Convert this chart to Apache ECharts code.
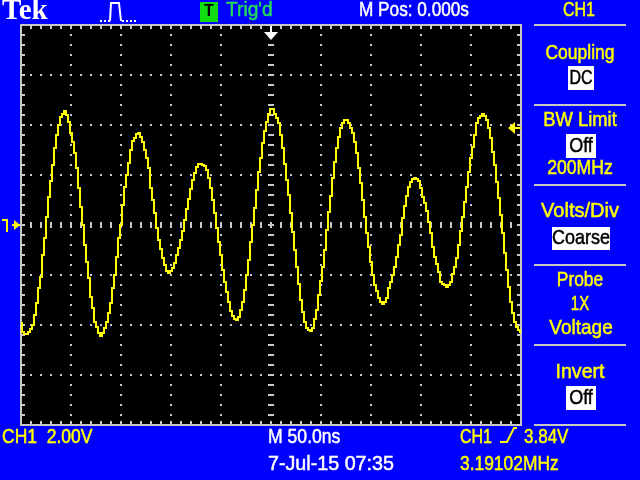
<!DOCTYPE html>
<html><head><meta charset="utf-8">
<style>html,body{margin:0;padding:0;background:#0000ff}#c{width:640px;height:480px}</style>
<script src="https://cdn.jsdelivr.net/npm/echarts@6/dist/echarts.min.js"></script>
</head><body><div id="c"></div>
<script>
var sampleStartNs=-250, sampleStepNs=2;
var ch1Volts=[-3.93,-4.27,-4.37,-4.37,-4.27,-4.16,-4,-3.6,-3.13,-2.53,-2.07,-1.2,-0.53,0.33,1.13,1.76,2.4,3.07,3.6,4,4.33,4.43,4.56,4.4,4.13,3.67,3.33,2.87,2.27,1.47,0.73,0,-0.8,-1.47,-2.13,-2.87,-3.33,-3.87,-4.07,-4.33,-4.43,-4.33,-4.13,-3.87,-3.53,-3.13,-2.53,-2,-1.27,-0.53,0,0.8,1.53,2,2.47,3,3.36,3.47,3.63,3.67,3.53,3.33,3,2.67,2.27,
1.47,1,0.47,-0.11,-0.6,-0.96,-1.31,-1.6,-1.84,-1.93,-1.84,-1.73,-1.53,-1.2,-0.93,-0.6,-0.24,0.2,0.64,1.04,1.44,1.81,2.07,2.33,2.44,2.45,2.4,2.37,2.2,1.89,1.47,1,0.47,-0.13,-0.67,-1.2,-1.8,-2.27,-2.67,-3.07,-3.44,-3.64,-3.76,-3.8,-3.69,-3.4,-3.07,-2.6,-2,-1.4,-0.67,0,0.67,1.4,2.13,2.69,3.27,3.76,4.13,4.44,4.64,
4.64,4.43,4.29,4.07,3.6,3.09,2.43,1.8,1.2,0.47,-0.27,-1,-1.67,-2.37,-3,-3.47,-3.87,-4.11,-4.2,-4.23,-4.11,-3.76,-3.4,-2.8,-2.24,-1.69,-1,-0.2,0.53,1.17,1.87,2.53,3.07,3.53,3.87,4.08,4.21,4.19,4.08,3.89,3.67,3.31,2.87,2.27,1.67,1,0.33,-0.33,-0.87,-1.47,-2,-2.4,-2.64,-2.91,-3.09,-3.16,-3.07,-2.91,-2.53,-2.27,-2,-1.67,-1.27,-0.8,
-0.4,0.29,0.76,1.17,1.53,1.73,1.84,1.89,1.84,1.76,1.47,1.13,0.87,0.56,0.13,-0.33,-0.87,-1.27,-1.57,-1.87,-2.27,-2.37,-2.4,-2.47,-2.4,-2.27,-1.97,-1.67,-1.31,-0.8,-0.24,0.33,0.93,1.53,2.13,2.67,3.13,3.6,4.07,4.27,4.37,4.43,4.37,4.2,3.87,3.47,2.93,2.4,1.73,1.07,0.4,-0.33,-1.13,-1.8,-2.47,-3.07,-3.53,-3.87,-4.07,-4.2,-4.29];
var statusTexts=["M Pos: 0.000s","CH1  2.00V","M 50.0ns","7-Jul-15 07:35","CH1","3.84V","3.19102MHz"];
var menuTexts=["CH1","Coupling","BW Limit","200MHz","Volts/Div","Probe","1X","Voltage","Invert"];
var menuValues=["DC","Off","Coarse","Off"];

var YEL='#ffff00',WHT='#ffffff',GRY='#c8c8c8',FONT='"Liberation Sans",sans-serif';
// the scope quantises a sample to 0.04 V, one display pixel
var points=ch1Volts.map(function(v,i){return [sampleStartNs+i*sampleStepNs,Math.round(v*25)/25];});

function frameX(pos){return {type:'value',position:pos,min:-250,max:250,interval:50,
  axisLine:{show:true,onZero:false,lineStyle:{color:GRY,width:2}},
  axisTick:{show:true,inside:true,length:4,lineStyle:{color:GRY,width:2}},
  minorTick:{show:true,splitNumber:5,length:4,lineStyle:{color:GRY,width:2}},
  axisLabel:{show:false},
  splitLine:{show:pos==='bottom',showMinLine:false,showMaxLine:false,lineStyle:{color:GRY,width:2,type:[2,8],dashOffset:1}}};}
function frameY(pos){return {type:'value',position:pos,min:-8,max:8,interval:2,
  axisLine:{show:true,onZero:false,lineStyle:{color:GRY,width:2}},
  axisTick:{show:true,inside:true,length:4,lineStyle:{color:GRY,width:2}},
  minorTick:{show:true,splitNumber:5,length:4,lineStyle:{color:GRY,width:2}},
  axisLabel:{show:false},
  splitLine:{show:pos==='left',showMinLine:false,showMaxLine:false,lineStyle:{color:GRY,width:2,type:[2,8],dashOffset:1}}};}
var xAxes=[frameX('bottom'),frameX('top'),{type:'value',min:-250,max:250,interval:250,axisLine:{show:false},axisTick:{show:false},axisLabel:{show:false},
  splitLine:{show:true,showMinLine:false,showMaxLine:false,lineStyle:{color:GRY,width:6,type:[2,8],dashOffset:1}}}];
var yAxes=[frameY('left'),frameY('right'),{type:'value',min:-8,max:8,interval:8,axisLine:{show:false},axisTick:{show:false},axisLabel:{show:false},
  splitLine:{show:true,showMinLine:false,showMaxLine:false,lineStyle:{color:GRY,width:6,type:[2,8],dashOffset:1}}}];

function txt(s,x,y,color,align,sx){
  return {type:'text',x:x,y:y,scaleX:(sx||1)/1.05,z:20,style:{text:s,fill:color,stroke:color,lineWidth:0.5,font:'21px '+FONT,textAlign:align||'left',textVerticalAlign:'middle'}};
}
function rect(x,y,w,h,c){return {type:'rect',z:15,shape:{x:x,y:y,width:w,height:h},style:{fill:c}};}
function poly(pts,c,w,dash){return {type:'polyline',z:20,shape:{points:pts},style:{stroke:c,lineWidth:w||2,fill:null,lineDash:dash||null}};}
function tri(pts,c){return {type:'polygon',z:20,shape:{points:pts},style:{fill:c}};}

var g=[];
g.push({type:'text',x:2,y:12,z:20,style:{text:'Tek',fill:WHT,font:'bold 29px "Liberation Serif",serif',textVerticalAlign:'middle'}});
g.push(poly([[100,21],[110,21]],WHT,2,[2,2]));
g.push(poly([[110,21],[111,3],[119,3],[121,21]],WHT,2));
g.push(poly([[122,21],[136,21]],WHT,2,[2,2]));
g.push(rect(200,2,18,20,'#11dd11'));
g.push({type:'text',x:209,y:12,z:20,style:{text:'T',fill:'#000',font:'bold 16px "Liberation Sans",sans-serif',textAlign:'center',textVerticalAlign:'middle'}});
g.push(txt("Trig'd",226,10,'#22dd55','left',.96));
g.push(txt(statusTexts[0],359,10,WHT,'left',.86));
g.push(txt(statusTexts[1],2,437,YEL,'left',.875));
g.push(txt(statusTexts[2],268,437,WHT,'left',.88));
g.push(txt(statusTexts[3],268,464,WHT,'left',.985));
g.push(txt(statusTexts[4],460,437,YEL,'left',.8));
g.push(poly([[500,442],[507,442],[514,428],[517,428]],YEL,2));
g.push(txt(statusTexts[5],524,437,YEL,'left',.85));
g.push(txt(statusTexts[6],460,464,YEL,'left',.87));
[25,105,185,265,345,425].forEach(function(y){g.push(rect(534,y-1,92,2,GRY));});
var my=[10,53,120,168,211,280,304,328,372];
var mx=[579,580,580,580,580,580,580,581,580];
var ms=[.8,.875,.92,.88,1,.87,.75,.95,.98];
menuTexts.forEach(function(s,i){g.push(txt(s,mx[i],my[i],YEL,'center',ms[i]));});
var boxes=[[568,66,26,24],[566,134,30,24],[552,227,58,23],[566,386,30,24]];
var bs=[.8,.9,.9,.9];
menuValues.forEach(function(s,i){var b=boxes[i];g.push(rect(b[0],b[1],b[2],b[3],WHT));g.push(txt(s,b[0]+b[2]/2,b[1]+b[3]/2,'#000','center',bs[i]));});
// markers
g.push(rect(270,26,2,8,WHT));
g.push(tri([[264,32],[278,32],[271,40]],WHT));
g.push(tri([[508,128],[515,122],[515,134]],YEL));
g.push(rect(514,127,7,2,YEL));
g.push(poly([[2,220],[7,220],[7,232]],YEL,2));
g.push(tri([[20,225],[14,220],[14,230]],YEL));
g.push(rect(12,224,8,2,YEL));

// A line series drops segments under 2px, which would erase the scope's stair steps,
// so the stairs are built from the axis scales in a custom series.
function renderTrace(params,api){
  if(params.dataIndex!==0)return null;
  var stair=[];
  points.forEach(function(p,i){
    var c=api.coord(p);
    if(i>0){
      var prev=api.coord(points[i-1]);
      var mid=(prev[0]+c[0])/2;
      stair.push([mid,prev[1]],[mid,c[1]]);
    }
    stair.push(c);
  });
  return {type:'polyline',silent:true,shape:{points:stair},style:{stroke:YEL,lineWidth:2,fill:null,lineJoin:'miter'}};
}

echarts.init(document.getElementById('c'),null,{renderer:'canvas'}).setOption({
  animation:false,backgroundColor:'#0000ff',
  grid:{left:21,top:25,width:500,height:400,show:true,backgroundColor:'#000',borderWidth:0},
  xAxis:xAxes,yAxis:yAxes,
  series:[{type:'custom',name:'CH1',data:points,renderItem:renderTrace,encode:{x:0,y:1},clip:false,z:10}],
  graphic:g
});
</script></body></html>
